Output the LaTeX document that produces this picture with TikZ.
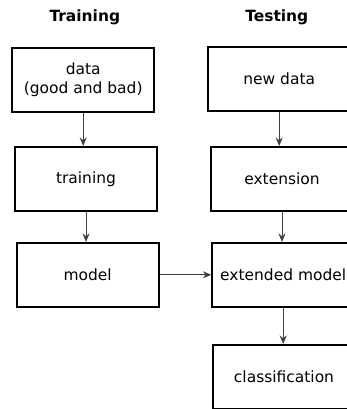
\documentclass[tikz,border=0pt]{standalone}
\usepackage{fontspec}
\setmainfont{DejaVu Sans}
\usepackage{tikz}
\usetikzlibrary{arrows.meta}
\tikzset{
  stage/.style={draw, line width=1.3pt, minimum width=3.55cm, minimum height=1.6cm,
    align=center, font=\fontsize{11}{13.5}\selectfont},
  title/.style={font=\fontsize{11}{13.5}\selectfont\bfseries},
  flow/.style={->, >={Stealth[length=6pt,width=5pt,inset=2pt]}, line width=0.6pt, black!75}
}

\begin{document}
\begin{tikzpicture}
\useasboundingbox (0,0) rectangle (8.65,-10.225);
\node[title] (train) at (2.12,-0.42) {Training};
\node[title] (test) at (6.92,-0.42) {Testing};
\node[stage] (data) at (2.08,-2.0) {data\\(good and bad)};
\node[stage] (training) at (2.15,-4.47) {training};
\node[stage] (model) at (2.19,-6.87) {model};
\node[stage] (newdata) at (6.98,-1.98) {new data};
\node[stage] (extension) at (7.05,-4.47) {extension};
\node[stage] (extmodel) at (7.08,-6.87) {extended model};
\node[stage] (classif) at (7.1,-9.42) {classification};
\draw[flow] (data.south) -- (data.south |- training.north);
\draw[flow] (training.south) -- (training.south |- model.north);
\draw[flow] (newdata.south) -- (newdata.south |- extension.north);
\draw[flow] (extension.south) -- (extension.south |- extmodel.north);
\draw[flow] (extmodel.south) -- (extmodel.south |- classif.north);
\draw[flow] (model.east) -- (extmodel.west);
\end{tikzpicture}
\end{document}
